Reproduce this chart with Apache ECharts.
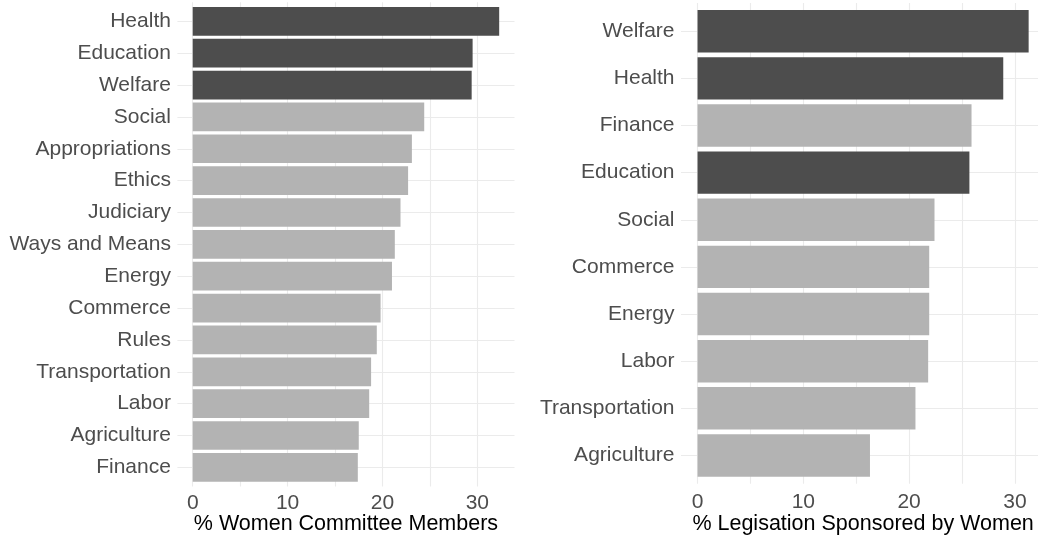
<!DOCTYPE html>
<html>
<head>
<meta charset="utf-8">
<script src="https://cdn.jsdelivr.net/npm/echarts@6/dist/echarts.min.js"></script>
<style>
html,body{margin:0;padding:0;background:#fff;}
#chart{width:1038px;height:538px;}
</style>
</head>
<body>
<div id="chart"></div>
<script>
// ---- data ----
const leftCategories = ['Health','Education','Welfare','Social','Appropriations','Ethics','Judiciary','Ways and Means','Energy','Commerce','Rules','Transportation','Labor','Agriculture','Finance'];
const leftValues = [32.3,29.5,29.4,24.4,23.1,22.7,21.9,21.3,21.0,19.8,19.4,18.8,18.6,17.5,17.4];
const rightCategories = ['Welfare','Health','Finance','Education','Social','Commerce','Energy','Labor','Transportation','Agriculture'];
const rightValues = [31.3,28.9,25.9,25.7,22.4,21.9,21.9,21.8,20.6,16.3];
const highlighted = ['Health','Education','Welfare'];
const xTickLabels = [0,10,20,30];
const xGridValues = [0,5,10,15,20,25,30];
const leftTitle = '% Women Committee Members';
const rightTitle = '% Legisation Sponsored by Women';

// ---- styling ----
const FONT = "'Liberation Sans', Arial, Helvetica, sans-serif";
const DARK = '#4d4d4d', LIGHT = '#b3b3b3', GRID = '#ebebeb', TXT = '#4d4d4d';
const TICK_FS = 21, TITLE_FS = 21.5;

function range(vals){ const m = Math.max(...vals); return [-0.05*m, 1.05*m]; }
const lr = range(leftValues), rr = range(rightValues);

// panel geometry (outer = full panel, inner = category span)
const panels = [
  {left:177.4, width:337.1, top:2.2, bottom:486.5, n:leftCategories.length},
  {left:681, width:364.2, top:3.0, bottom:483.7, n:rightCategories.length}
];
const grids = [];
panels.forEach(p => {
  const pitch = (p.bottom - p.top) / (p.n + 0.2);
  grids.push({left:p.left, width:p.width, top:p.top, height:p.bottom - p.top, outerBoundsMode:'none'});
  grids.push({left:p.left, width:p.width, top:p.top + 0.6*pitch, height:(p.bottom - p.top) - 1.2*pitch, outerBoundsMode:'none'});
});

function outerX(gi, r, title, nameGap, labMargin){
  return {
    type:'value', gridIndex:gi, min:r[0], max:r[1],
    axisLine:{show:false},
    axisTick:{show:false, customValues:xGridValues},
    axisLabel:{customValues:xTickLabels, color:TXT, fontSize:TICK_FS, fontFamily:FONT, margin:labMargin},
    splitLine:{show:true, lineStyle:{color:GRID, width:1.1}},
    name:title, nameLocation:'middle', nameGap:nameGap, nameMoveOverlap:false,
    nameTextStyle:{color:'#000', fontSize:TITLE_FS, fontFamily:FONT, verticalAlign:'top'}
  };
}
function innerX(gi, r){
  return {type:'value', gridIndex:gi, min:r[0], max:r[1], show:false, splitLine:{show:false}};
}
function innerY(gi, cats){
  return {
    type:'category', gridIndex:gi, data:cats, inverse:true, boundaryGap:false,
    axisLine:{show:false}, axisTick:{show:false},
    axisLabel:{color:TXT, fontSize:TICK_FS, fontFamily:FONT, margin:6.5, interval:0, padding:[2,0,0,0]},
    splitLine:{show:true, interval:0, lineStyle:{color:GRID, width:1.1}}
  };
}
function outerY(gi){
  return {type:'value', gridIndex:gi, min:0, max:1, show:false, splitLine:{show:false}};
}
function barData(cats, vals){
  return vals.map((v,i) => ({value:v, itemStyle:{color: highlighted.includes(cats[i]) ? DARK : LIGHT}}));
}

const option = {
  backgroundColor:'#fff',
  animation:false,
  grid: grids,
  xAxis: [outerX(0, lr, leftTitle, 26.5, 6), innerX(1, lr), outerX(2, rr, rightTitle, 29.5, 8.5), innerX(3, rr)],
  yAxis: [outerY(0), innerY(1, leftCategories), outerY(2), innerY(3, rightCategories)],
  series: [
    {type:'bar', xAxisIndex:1, yAxisIndex:1, data:barData(leftCategories, leftValues), barWidth:'90%', clip:false},
    {type:'bar', xAxisIndex:3, yAxisIndex:3, data:barData(rightCategories, rightValues), barWidth:'90%', clip:false}
  ]
};
const chart = echarts.init(document.getElementById('chart'), null, {renderer:'canvas'});
chart.setOption(option);
</script>
</body>
</html>
